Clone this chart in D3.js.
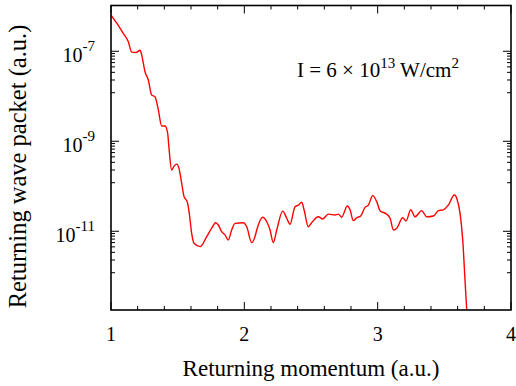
<!DOCTYPE html>
<html>
<head>
<meta charset="utf-8">
<script src="https://cdn.jsdelivr.net/npm/d3@7"></script>
<style>
  body { margin: 0; background: #fff; }
  text { font-family: "Liberation Serif", "Times New Roman", serif; fill: #000; }
</style>
</head>
<body>
<div id="chart"></div>
<script>
// returning momentum (a.u.) and returning wave packet (a.u.)
const momentum = [1.000, 1.043, 1.092, 1.130, 1.155, 1.188, 1.218, 1.230, 1.255, 1.280,
  1.305, 1.330, 1.355, 1.380, 1.405, 1.425, 1.434, 1.455, 1.473, 1.493,
  1.510, 1.530, 1.548, 1.572, 1.587, 1.605, 1.623, 1.668, 1.718, 1.755,
  1.785, 1.805, 1.830, 1.855, 1.880, 1.905, 1.930, 1.992, 2.018, 2.055,
  2.080, 2.093, 2.138, 2.168, 2.193, 2.217, 2.243, 2.288, 2.318, 2.343,
  2.380, 2.405, 2.430, 2.448, 2.480, 2.505, 2.555, 2.588, 2.630, 2.680,
  2.705, 2.730, 2.772, 2.793, 2.817, 2.843, 2.873, 2.905, 2.930, 2.963,
  2.993, 3.018, 3.068, 3.093, 3.118, 3.143, 3.188, 3.213, 3.248, 3.280,
  3.330, 3.368, 3.418, 3.455, 3.492, 3.530, 3.575, 3.597, 3.618, 3.638,
  3.655, 3.668, 3.690];
const packet = [6.4e-7, 4.2e-7, 2.5e-7, 1.63e-7, 9.6e-8, 9.4e-8, 1.05e-7, 8.3e-8, 3.5e-8, 2.3e-8,
  1.07e-8, 9.8e-9, 4.97e-9, 2.19e-9, 2.19e-9, 1.5e-9, 7.6e-10, 2.3e-10, 2.8e-10, 3.1e-10,
  2.5e-10, 1.17e-10, 5.9e-11, 4.5e-11, 2.5e-11, 9.0e-12, 5.4e-12, 4.55e-12, 7.6e-12, 1.17e-11,
  1.55e-11, 1.38e-11, 9.8e-12, 8.3e-12, 6.4e-12, 1.07e-11, 1.5e-11, 1.55e-11, 1.26e-11, 5.6e-12,
  7.6e-12, 1.07e-11, 2.05e-11, 1.63e-11, 1.07e-11, 5.6e-12, 1.07e-11, 2.8e-11, 1.95e-11, 1.43e-11,
  3.5e-11, 3.8e-11, 4.4e-11, 3.0e-11, 1.26e-11, 1.55e-11, 2.1e-11, 1.88e-11, 2.4e-11, 2.3e-11,
  2.4e-11, 2.05e-11, 3.65e-11, 3.0e-11, 1.72e-11, 2.0e-11, 2.19e-11, 3.4e-11, 3.8e-11, 6.2e-11,
  4.55e-11, 2.87e-11, 2.4e-11, 1.95e-11, 1.07e-11, 1.17e-11, 2.0e-11, 1.7e-11, 3.0e-11, 2.1e-11,
  2.87e-11, 2.1e-11, 2.19e-11, 2.87e-11, 3.0e-11, 3.8e-11, 6.4e-11, 4.97e-11, 2.5e-11, 6.4e-12,
  8.3e-13, 1.78e-13, 2e-14];

const xTicks = [1, 2, 3, 4];
const yTicks = [1e-7, 1e-9, 1e-11];
const yExponents = ['-7', '-9', '-11'];

const width = 516, height = 386;
const margin = { top: 5.5, right: 5, bottom: 76, left: 111 };
const iw = width - margin.left - margin.right;
const ih = height - margin.top - margin.bottom;

const svg = d3.select('#chart').append('svg')
  .attr('width', width)
  .attr('height', height);

const g = svg.append('g')
  .attr('transform', 'translate(' + margin.left + ',' + margin.top + ')');

const x = d3.scaleLinear().domain([1, 4]).range([0, iw]);
const y = d3.scaleLog().domain([1.78e-13, 1.04e-6]).range([ih, 0]);

// minor ticks: x every 0.2, y spaced linearly between major ticks (gnuplot style)
const xMinor = d3.range(1, 4.001, 0.2).filter(function (v) { return Math.abs(v - Math.round(v)) > 1e-6; });
const yMinor = [];
[1e-13, 1e-11, 1e-9, 1e-7].forEach(function (lo) {
  const hi = lo * 100;
  for (let k = 1; k <= 8; k++) {
    const v = lo + k * (hi - lo) / 9;
    if (v > y.domain()[0] && v < y.domain()[1]) yMinor.push(v);
  }
});

function tickLines(axis, vals, len) {
  const s = g.append('g').attr('stroke', '#000').attr('stroke-width', 1);
  vals.forEach(function (v) {
    if (axis === 'x') {
      s.append('line').attr('x1', x(v)).attr('x2', x(v)).attr('y1', ih).attr('y2', ih - len);
      s.append('line').attr('x1', x(v)).attr('x2', x(v)).attr('y1', 0).attr('y2', len);
    } else {
      s.append('line').attr('x1', 0).attr('x2', len).attr('y1', y(v)).attr('y2', y(v));
      s.append('line').attr('x1', iw).attr('x2', iw - len).attr('y1', y(v)).attr('y2', y(v));
    }
  });
}
tickLines('x', xTicks, 8);
tickLines('x', xMinor, 4);
tickLines('y', yTicks, 8);
tickLines('y', yMinor, 4);

// curve
g.append('clipPath').attr('id', 'clip')
  .append('rect').attr('width', iw).attr('height', ih);

const line = d3.line()
  .x(function (d, i) { return x(momentum[i]); })
  .y(function (d) { return y(d); })
  .curve(d3.curveMonotoneX);

g.append('path')
  .datum(packet)
  .attr('clip-path', 'url(#clip)')
  .attr('fill', 'none')
  .attr('stroke', '#ff0000')
  .attr('stroke-width', 1.4)
  .attr('d', line);

// frame
g.append('rect')
  .attr('width', iw).attr('height', ih)
  .attr('fill', 'none')
  .attr('stroke', '#000')
  .attr('stroke-width', 1.6);

// x tick labels
g.selectAll('.xl').data(xTicks).enter().append('text')
  .attr('x', function (d) { return x(d); })
  .attr('y', ih + 31)
  .attr('text-anchor', 'middle')
  .style('font-size', '20px')
  .text(function (d) { return d; });

// y tick labels with superscript exponents
const yl = g.selectAll('.yl').data(yTicks).enter().append('text')
  .attr('x', 95 - margin.left)
  .attr('y', function (d) { return y(d) + 10.5; })
  .attr('text-anchor', 'end')
  .style('font-size', '20px');
yl.append('tspan').text('10');
yl.append('tspan')
  .attr('dy', -11)
  .style('font-size', '15px')
  .text(function (d, i) { return yExponents[i]; });

// annotation
const ann = g.append('text')
  .attr('x', 297 - margin.left)
  .attr('y', 77 - margin.top)
  .style('font-size', '21px');
ann.append('tspan').text('I = 6 \u00d7 10');
ann.append('tspan').attr('dy', -9).style('font-size', '15px').text('13');
ann.append('tspan').attr('dy', 9).text(' W/cm');
ann.append('tspan').attr('dy', -9).style('font-size', '15px').text('2');

// axis titles
svg.append('text')
  .attr('x', margin.left + iw / 2)
  .attr('y', 376)
  .attr('text-anchor', 'middle')
  .style('font-size', '23px')
  .text('Returning momentum (a.u.)');

svg.append('text')
  .attr('transform', 'translate(26,166.5) rotate(-90)')
  .attr('text-anchor', 'middle')
  .style('font-size', '24.5px')
  .text('Returning wave packet (a.u.)');
</script>
</body>
</html>
